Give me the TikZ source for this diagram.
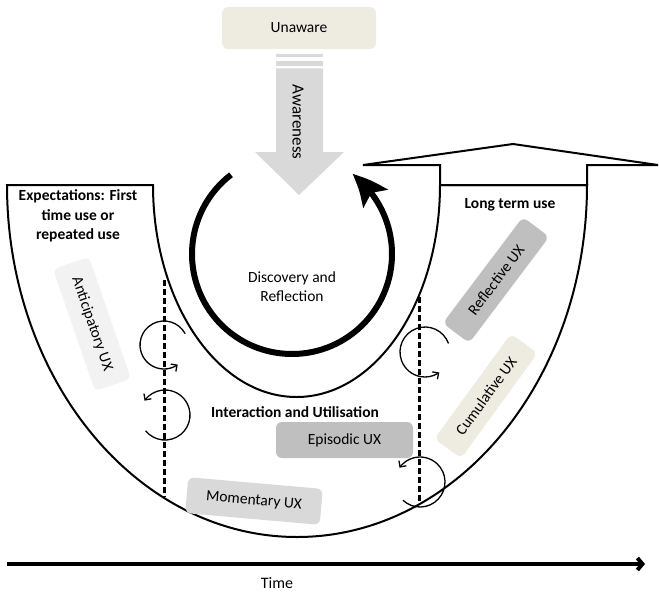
\documentclass[tikz,border=0pt]{standalone}
\usepackage{fontspec}
\setmainfont{Carlito}
\usetikzlibrary{arrows.meta,bending}
\definecolor{beige}{HTML}{EEECE1}
\definecolor{lgray}{HTML}{F2F2F2}
\definecolor{mgray}{HTML}{D9D9D9}
\definecolor{dgray}{HTML}{BFBFBF}
\begin{document}
\begin{tikzpicture}[x=1pt,y=1pt,
  every node/.style={font=\fontsize{15.5}{19}\selectfont, inner sep=0pt},
  bold/.style={font=\fontsize{15.5}{19.5}\selectfont\bfseries, align=center},
  uxbox/.style={rounded corners=6pt, align=center},
  outline/.style={line width=2pt, fill=white},
  cyc/.style={line width=1.3pt, -{Straight Barb[length=4.5pt,width=9pt]}},
  sep/.style={line width=3pt, dash pattern=on 6pt off 3pt}]
\useasboundingbox (0,-592) rectangle (659,0);

% U-shaped band
\draw[outline] (7,-185) arc[start angle=180,end angle=360,x radius=290,y radius=352]
  -- (440,-185) arc[start angle=0,end angle=-180,x radius=143.5,y radius=212] -- cycle;

% up arrow on the right arm
\draw[outline, line join=miter] (440,-185) -- (440,-165) -- (363,-165) -- (513,-144)
  -- (658,-165) -- (587,-165) -- (587,-185) -- cycle;

% awareness arrow
\fill[mgray] (276,-54) rectangle (323,-57.3);
\fill[mgray] (276,-60.7) rectangle (323,-65.7);
\fill[mgray] (276,-68.3) -- (323,-68.3) -- (323,-152) -- (344,-152) -- (299,-195)
  -- (255,-152) -- (276,-152) -- cycle;
\node[rotate=-90, font=\fontsize{17}{20}\selectfont] (aw) at (298,-122) {Awareness};

% unaware
\node[uxbox, fill=beige, minimum width=154pt, minimum height=42pt] (un) at (299,-28) {Unaware};

% discovery cycle
\coordinate (dc) at (292,-254);
\draw[line width=6pt, -{Stealth[length=34pt,width=30pt,inset=7pt,bend]}]
  (dc) ++(127.6:100) arc[start angle=127.6, end angle=413, radius=100];
\node[align=center] (disc) at (292,-287) {Discovery and\\Reflection};

% dashed separators
\coordinate (l1) at (164,-280); \coordinate (l2) at (164,-497);
\coordinate (r1) at (419,-297); \coordinate (r2) at (419,-503);
\draw[sep] (l1) -- (l2);
\draw[sep] (r1) -- (r2);

% small cycles
\coordinate (ca) at (164,-345);
\coordinate (cb) at (165,-415);
\coordinate (cc) at (425,-352);
\coordinate (cd) at (420,-482);
\draw[cyc] (ca) ++(28:24) arc[start angle=28,end angle=305,radius=24];
\draw[cyc] (cb) ++(219:25) arc[start angle=219,end angle=505,radius=25];
\draw[cyc] (cc) ++(20:25) arc[start angle=20,end angle=305,radius=25];
\draw[cyc] (cd) ++(227:25) arc[start angle=227,end angle=505,radius=25];

% UX boxes
\node[uxbox, fill=lgray, minimum width=129pt, minimum height=38pt, rotate=-71] (ant) at (92,-324) {Anticipatory UX};
\node[uxbox, fill=dgray, minimum width=133pt, minimum height=33pt, rotate=53] (refl) at (496,-280) {Reflective UX};
\node[uxbox, fill=beige, minimum width=130pt, minimum height=33pt, rotate=54] (cum) at (486,-396) {Cumulative UX};
\node[uxbox, fill=dgray, minimum width=137pt, minimum height=36pt] (epi) at (344.5,-440) {Episodic UX};
\node[uxbox, fill=mgray, minimum width=135pt, minimum height=36pt, rotate=-5] (mom) at (254,-501) {Momentary UX};

% labels
\node[bold] (exp) at (78,-216) {Expectations: First\\time use or\\repeated use};
\node[bold] (lt) at (510,-205) {Long term use};
\node[bold] (iu) at (295,-412) {Interaction and Utilisation};

% time axis
\coordinate (t0) at (7,-564);
\coordinate (t1) at (645,-564);
\draw[line width=4pt, -{Straight Barb[length=5pt,width=12pt]}] (t0) -- (t1);
\node[font=\fontsize{16}{19}\selectfont] (time) at (277,-583) {Time};
\end{tikzpicture}
\end{document}
